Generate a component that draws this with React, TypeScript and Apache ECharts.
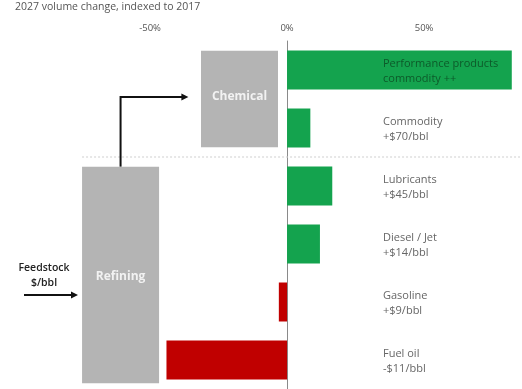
import React, { useEffect, useRef } from "react";
import * as echarts from "echarts";

const categories = [
  "Performance products\ncommodity ++",
  "Commodity\n+$70/bbl",
  "Lubricants\n+$45/bbl",
  "Diesel / Jet\n+$14/bbl",
  "Gasoline\n+$9/bbl",
  "Fuel oil\n-$11/bbl",
];
const volumeChange = [82, 8.5, 16.5, 12, -3, -44];
const tickValues = [-50, 0, 50];
const boxNames = ["Chemical", "Refining"];
const boxRanges = [
  [-31.4, -3.3, 0, 1],
  [-74.8, -46.7, 2, 5],
];

const GREEN = "#14a34e";
const RED = "#c00000";
const GRAY = "#b4b4b4";
const FONT = "Open Sans";

export default function App() {
  const ref = useRef<HTMLDivElement>(null);
  useEffect(() => {
    if (!ref.current) return;
    const chart = echarts.init(ref.current, null, { renderer: "svg" });
    const option: any = {
      animation: false,
      textStyle: { fontFamily: FONT },
      grid: { left: 13, width: 507, top: 41, height: 350, containLabel: false },
      xAxis: {
        type: "value",
        position: "top",
        min: -100,
        max: 85,
        interval: 50,
        axisLine: { show: false },
        axisTick: { show: false },
        splitLine: { show: false },
        axisLabel: {
          showMaxLabel: false,
          margin: 9,
          fontSize: 9.5,
          color: "#555",
          fontFamily: FONT,
          formatter: (v: number) => (tickValues.includes(v) ? v + "%" : ""),
        },
      },
      yAxis: [
        {
          type: "category",
          data: categories,
          inverse: true,
          axisLine: { show: true, onZero: true, lineStyle: { color: "#8a8a8a", width: 1 } },
          axisTick: { show: false },
          splitLine: { show: false },
          axisLabel: { show: false },
        },
        {
          type: "category",
          data: categories,
          inverse: true,
          position: "right",
          axisLine: { show: false, onZero: false },
          axisTick: { show: false },
          splitLine: { show: false },
          axisLabel: {
            inside: true,
            margin: 137,
            align: "left",
            formatter: (v: string, i: number) => (i === 0 ? `{g|${v}}` : `{n|${v}}`),
            rich: {
              g: { color: "#0d5a2a", fontSize: 11, lineHeight: 15, fontFamily: FONT },
              n: { color: "#666", fontSize: 11, lineHeight: 15, fontFamily: FONT },
            },
          },
          z: 10,
        },
      ],
      series: [
        {
          type: "bar",
          barWidth: 39,
          data: volumeChange.map((v) => ({
            value: v,
            itemStyle: { color: v >= 0 ? GREEN : RED },
          })),
          z: 3,
        },
        {
          type: "custom",
          coordinateSystem: "cartesian2d",
          data: boxRanges,
          encode: { x: [0, 1], y: [2, 3] },
          z: 2,
          renderItem: (params: any, api: any) => {
            const x0 = api.value(0);
            const x1 = api.value(1);
            const r0 = api.value(2);
            const r1 = api.value(3);
            const band = api.size([0, 1])[1];
            const half = band * 0.334;
            const p0 = api.coord([x0, r0]);
            const p1 = api.coord([x1, r1]);
            const top = p0[1] - half;
            const bottom = p1[1] + half + (params.dataIndex === 1 ? 4 : 0);
            const name = boxNames[params.dataIndex];
            return {
              type: "group",
              children: [
                {
                  type: "rect",
                  shape: { x: p0[0], y: top, width: p1[0] - p0[0], height: bottom - top },
                  style: { fill: GRAY },
                },
                {
                  type: "text",
                  style: {
                    text: name,
                    x: (p0[0] + p1[0]) / 2,
                    y: (top + bottom) / 2 - (params.dataIndex === 0 ? 4 : 0),
                    align: "center",
                    verticalAlign: "middle",
                    fill: "#f2f2f2",
                    font: `bold 12px "${FONT}"`,
                  },
                },
              ],
            };
          },
        },
        {
          type: "custom",
          coordinateSystem: "cartesian2d",
          data: [[0, 0]],
          z: 1,
          renderItem: (params: any, api: any) => {
            const band = api.size([0, 1])[1];
            const half = band * 0.334;
            const sepY = api.coord([0, 1])[1] + band / 2;
            const sepL = api.coord([-74.8, 1])[0];
            const sepR = api.coord([85, 1])[0];
            const refTop = api.coord([0, 2])[1] - half;
            const arrowX = (api.coord([-74.8, 2])[0] + api.coord([-46.7, 2])[0]) / 2;
            const arrowY = api.coord([0, 0])[1] + band / 2 - 2;
            const tipX = api.coord([-36, 0])[0];
            return {
              type: "group",
              children: [
                {
                  type: "line",
                  shape: { x1: sepL, y1: sepY, x2: sepR, y2: sepY },
                  style: { stroke: "#cfcfcf", lineWidth: 1, lineDash: [2, 2] },
                },
                {
                  type: "polyline",
                  shape: {
                    points: [
                      [arrowX, refTop],
                      [arrowX, arrowY],
                      [tipX - 5, arrowY],
                    ],
                  },
                  style: { stroke: "#111", lineWidth: 2, fill: "none" },
                },
                {
                  type: "polygon",
                  shape: {
                    points: [
                      [tipX, arrowY],
                      [tipX - 7, arrowY - 3.5],
                      [tipX - 7, arrowY + 3.5],
                    ],
                  },
                  style: { fill: "#111" },
                },
              ],
            };
          },
        },
      ],
      graphic: [
        {
          type: "text",
          left: 15,
          top: 0,
          style: {
            text: "2027 volume change, indexed to 2017",
            fill: "#555",
            font: `10.5px "${FONT}"`,
          },
        },
        {
          type: "text",
          x: 44,
          y: 274.5,
          style: {
            text: "Feedstock\n$/bbl",
            align: "center",
            verticalAlign: "middle",
            lineHeight: 15,
            fill: "#222",
            font: `600 10.5px "${FONT}"`,
          },
        },
        {
          type: "line",
          shape: { x1: 24, y1: 295, x2: 72, y2: 295 },
          style: { stroke: "#111", lineWidth: 2 },
        },
        {
          type: "polygon",
          shape: { points: [[78, 295], [71, 291.5], [71, 298.5]] },
          style: { fill: "#111" },
        },
      ],
    };
    chart.setOption(option);
    return () => chart.dispose();
  }, []);
  return (
    <div
      ref={ref}
      style={{ position: "fixed", left: 0, top: 0, width: 522, height: 389 }}
    />
  );
}
